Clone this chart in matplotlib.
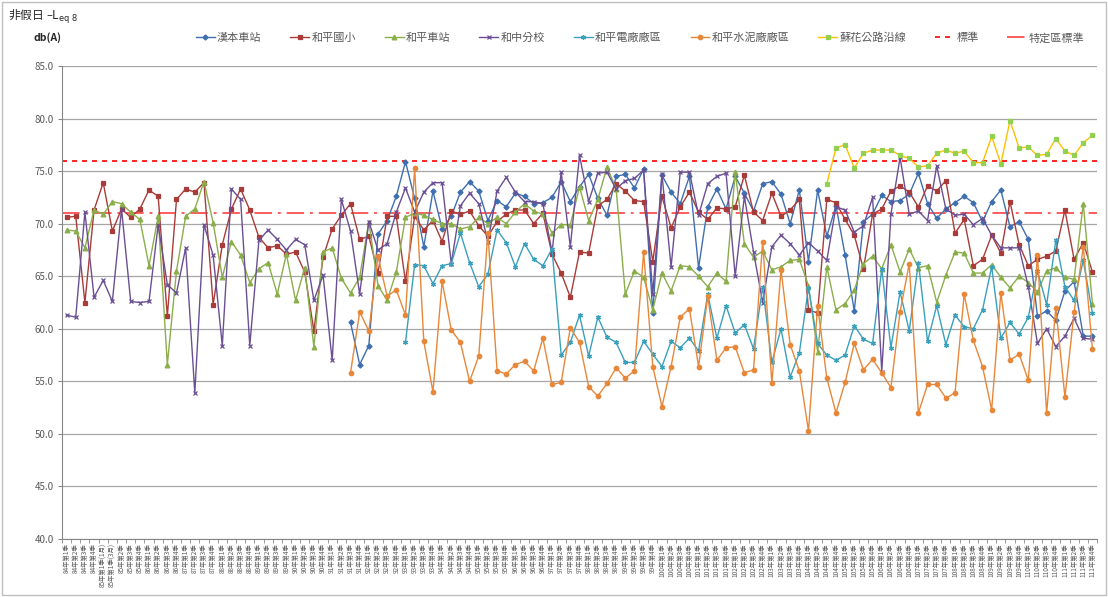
import matplotlib
matplotlib.use("Agg")
import matplotlib.pyplot as plt
from matplotlib.patches import Rectangle
import numpy as np

plt.rcParams["font.family"] = ["Noto Sans CJK TC", "DejaVu Sans"]

# ---------------------------------------------------------------- 類別 (季別)
labels_head = ["84年第1季", "84年第2季", "84年第3季", "84年第4季",
               "85年第1季(1月)", "85年第1季(3月)", "85年第2季", "85年第3季", "85年第4季"]
years = list(range(86, 112))
quarters = [1, 2, 3, 4]
labels = labels_head + [f"{y}年第{q}季" for y in years for q in quarters]

# ---------------------------------------------------------------- 各測站 Leq (dB(A))
hanben = [None] * 31 + [
    60.6, 56.6, 58.4, 69.0, 70.3, 72.6, 75.9, 72.4, 67.8, 73.1,
    69.5, 70.7, 73.0, 74.0, 73.1, 70.3, 72.2, 71.6, 72.9, 72.6,
    71.9, 72.0, 72.5, 74.0, 72.1, 73.5, 74.7, 72.4, 70.8, 74.5,
    74.7, 73.4, 75.2, 61.5, 74.6, 73.0, 71.9, 74.5, 65.8, 71.6,
    73.3, 71.4, 74.5, 72.9, 71.2, 73.8, 74.0, 72.8, 70.0, 73.2,
    66.4, 73.2, 68.8, 71.7, 67.0, 61.7, 70.2, 70.9, 72.7, 72.1,
    72.2, 72.8, 74.8, 71.9, 70.5, 71.4, 72.0, 72.6, 72.0, 70.2,
    72.1, 73.2, 69.7, 70.2, 68.5, 61.2, 61.7, 60.8, 63.6, 64.5,
    59.3, 59.3]

heping_school = [
    70.6, 70.7, 62.5, 71.3, 73.9, 69.3, 71.4, 70.6, 71.4, 73.2,
    72.6, 61.2, 72.3, 73.3, 73.0, 73.9, 62.3, 68.0, 71.4, 73.3,
    71.3, 68.7, 67.7, 67.9, 67.1, 67.3, 65.4, 59.8, 66.8, 69.5,
    70.8, 71.9, 68.5, 68.8, 65.3, 70.7, 70.7, 64.5, 70.7, 69.4,
    70.3, 68.3, 71.2, 70.9, 71.2, 69.8, 68.8, 70.2, 70.9, 71.3,
    71.3, 70.0, 71.0, 67.1, 65.3, 63.0, 67.3, 67.2, 71.7, 72.3,
    73.8, 73.1, 72.2, 72.1, 66.4, 72.6, 69.6, 71.6, 73.0, 71.1,
    70.4, 71.5, 71.4, 71.6, 74.6, 71.1, 70.3, 72.9, 70.7, 71.3,
    72.3, 61.8, 61.5, 72.3, 72.0, 70.4, 68.9, 65.7, 70.9, 71.4,
    73.1, 73.6, 73.0, 71.6, 73.6, 73.1, 74.1, 69.1, 70.4, 66.0,
    66.6, 68.9, 67.2, 72.1, 68.0, 66.0, 66.6, 66.9, 67.4, 71.3,
    66.6, 68.2, 65.4]

heping_station = [
    69.4, 69.3, 67.7, 71.3, 70.9, 72.1, 71.9, 71.1, 70.4, 66.0,
    70.7, 56.6, 65.5, 70.7, 71.4, 74.0, 70.1, 64.9, 68.3, 67.0,
    64.4, 65.7, 66.3, 63.3, 67.1, 62.7, 65.8, 58.3, 67.3, 67.7,
    64.8, 63.4, 64.9, 70.2, 64.1, 62.7, 65.4, 70.6, 71.0, 70.8,
    70.4, 70.0, 70.0, 69.5, 69.7, 70.6, 70.0, 70.6, 70.0, 71.1,
    71.9, 71.2, 70.9, 69.1, 69.9, 69.9, 73.5, 70.3, 72.3, 75.4,
    73.3, 63.3, 65.5, 64.9, 61.8, 65.3, 63.6, 66.0, 65.9, 65.0,
    64.0, 65.3, 64.5, 74.9, 68.1, 66.8, 67.4, 65.6, 65.9, 66.5,
    66.6, 64.1, 57.8, 65.9, 61.8, 62.4, 63.7, 66.2, 66.9, 65.7,
    68.0, 65.4, 67.6, 65.8, 66.0, 62.5, 65.1, 67.3, 67.2, 65.3,
    65.3, 66.1, 64.9, 63.9, 65.0, 64.4, 63.5, 65.5, 65.8, 64.9,
    64.7, 71.9, 62.4]

hezhong = [
    61.3, 61.1, 71.1, 63.0, 64.6, 62.6, 71.4, 62.6, 62.5, 62.6,
    69.9, 64.2, 63.4, 67.7, 53.9, 69.9, 67.0, 58.4, 73.3, 72.3,
    58.4, 68.4, 69.4, 68.5, 67.5, 68.5, 68.0, 62.7, 65.1, 57.0,
    72.3, 69.3, 63.3, 70.2, 67.5, 68.1, 71.1, 73.4, 71.1, 73.0,
    73.9, 73.9, 66.2, 71.7, 72.9, 71.9, 68.3, 73.1, 74.4, 73.0,
    72.1, 72.1, 71.9, 67.3, 74.9, 67.8, 76.5, 72.1, 74.8, 74.9,
    73.3, 74.1, 74.3, 75.1, 63.3, 74.7, 65.9, 74.9, 74.9, 70.8,
    73.8, 74.5, 74.8, 65.0, 72.6, 67.3, 62.5, 67.8, 68.9, 68.1,
    67.0, 68.2, 67.4, 66.5, 71.6, 71.3, 69.2, 69.8, 72.5, 55.9,
    70.9, 76.3, 70.9, 71.2, 70.3, 75.5, 71.4, 70.8, 70.9, 69.9,
    70.5, 68.9, 67.7, 67.7, 67.7, 64.0, 58.6, 60.0, 58.3, 59.3,
    61.0, 59.1, 59.0]

power_plant = [None] * 37 + [
    58.7, 66.1, 66.0, 64.3, 66.0, 66.2, 69.1, 66.3, 64.0, 65.2,
    69.4, 68.2, 65.9, 68.1, 66.6, 66.0, 67.6, 57.5, 58.7, 61.3,
    57.4, 61.1, 59.2, 58.7, 56.8, 56.8, 58.8, 57.6, 56.4, 58.8,
    58.2, 59.1, 57.9, 63.3, 59.1, 62.2, 59.6, 60.4, 58.1, 64.0,
    56.8, 60.0, 55.4, 57.7, 63.9, 58.6, 57.5, 57.0, 57.5, 60.3,
    59.0, 58.6, 65.7, 58.2, 63.5, 59.8, 66.3, 58.8, 62.2, 58.5,
    61.3, 60.2, 60.0, 61.8, 65.9, 59.1, 60.6, 59.5, 61.1, 65.5,
    62.3, 68.4, 64.0, 62.7, 66.5, 61.5]

cement_plant = [None] * 31 + [
    55.8, 61.6, 59.8, 66.9, 63.1, 63.7, 61.3, 75.3, 58.8, 54.0,
    64.5, 59.9, 58.7, 55.0, 57.4, 69.1, 56.0, 55.7, 56.6, 56.9,
    56.0, 59.1, 54.7, 54.9, 60.1, 58.7, 54.5, 53.6, 54.8, 56.3,
    55.3, 56.0, 67.3, 56.4, 52.6, 56.4, 61.1, 61.9, 56.4, 63.1,
    57.0, 58.2, 58.3, 55.8, 56.1, 68.3, 54.8, 65.6, 58.5, 56.0,
    50.3, 62.2, 55.3, 52.0, 54.9, 58.6, 56.1, 57.1, 55.8, 54.4,
    61.6, 66.2, 52.0, 54.7, 54.7, 53.4, 53.9, 63.3, 58.9, 56.4,
    52.3, 63.4, 57.0, 57.6, 55.1, 67.0, 52.0, 62.0, 53.5, 61.6,
    67.8, 58.1]

suhua = [None] * 83 + [
    73.8, 77.2, 77.5, 75.3, 76.7, 77.0, 77.0, 77.0, 76.5, 76.2,
    75.4, 75.5, 76.7, 77.0, 76.7, 76.9, 75.8, 75.8, 78.3, 75.7,
    79.8, 77.2, 77.3, 76.5, 76.6, 78.1, 76.9, 76.5, 77.7, 78.4]

standard = 76
special_standard = 71

series = [
    ("漢本車站", hanben, "#3F6FB0", "D", 2.6, "#3F6FB0"),
    ("和平國小", heping_school, "#A93B38", "s", 3.2, "#A93B38"),
    ("和平車站", heping_station, "#8AAE4A", "^", 3.4, "#8AAE4A"),
    ("和中分校", hezhong, "#6A4F94", "x", 3.2, "#6A4F94"),
    ("和平電廠廠區", power_plant, "#3AA0BC", (6, 2, 0), 3.6, "#3AA0BC"),
    ("和平水泥廠廠區", cement_plant, "#E7873A", "o", 3.2, "#E7873A"),
    ("蘇花公路沿線", suhua, "#FFC000", "s", 3.2, "#92D050"),
]

TXT = "#595959"

fig = plt.figure(figsize=(11.08, 5.97), dpi=100)
fig.patch.set_facecolor("white")
ax = fig.add_axes([62 / 1108, 1 - 539 / 597, 1035 / 1108, 473 / 597])
fig.patches.append(Rectangle((0.002, 0.003), 0.996, 0.994, transform=fig.transFigure,
                             fill=False, edgecolor="#BFBFBF", lw=1))

x = np.arange(len(labels))
handles = []
for name, vals, col, mk, ms, mcol in series:
    y = np.array(vals, dtype=float)
    h, = ax.plot(x, y, color=col, lw=1.0, marker=mk, markersize=ms,
                 markerfacecolor=mcol, markeredgecolor=mcol, markeredgewidth=0.9,
                 label=name, zorder=3)
    handles.append(h)

h1 = ax.axhline(standard, color="#FF0000", lw=1.2, ls=(0, (3, 3)), label="標準", zorder=2)
h2 = ax.axhline(special_standard, color="#FF4040", lw=1.4, alpha=0.85,
                ls=(0, (9, 3, 1.5, 3)), label="特定區標準", zorder=2)
handles += [h1, h2]

ax.set_xlim(-0.5, len(labels) - 0.5)
ax.set_ylim(40, 85)
ax.set_yticks(np.arange(40, 86, 5))
ax.set_yticklabels([f"{v:.1f}" for v in np.arange(40, 86, 5)], fontsize=7, color=TXT)
ax.set_xticks(x)
ax.set_xticklabels(labels, rotation=90, fontsize=4.6, color=TXT)
ax.set_xticks(np.arange(-0.5, len(labels), 1), minor=True)
ax.tick_params(axis="x", which="major", length=0, pad=3)
ax.tick_params(axis="x", which="minor", length=3, color="#868686")
ax.tick_params(axis="y", length=3, color="#868686", pad=3)
ax.grid(axis="y", color="#A6A6A6", lw=0.9, zorder=0)
for s in ["top", "right"]:
    ax.spines[s].set_visible(False)
ax.spines["left"].set_color("#868686")
ax.spines["bottom"].set_color("#868686")

fig.text(8 / 1108, 1 - 17 / 597, "非假日 –L$_{\\mathrm{eq\\ 8}}$", fontsize=8.5,
         color="#262626", va="center", ha="left")
fig.text(33 / 1108, 1 - 38 / 597, "db(A)", fontsize=7.5, color="#262626",
         va="center", ha="left", fontweight="bold")

fig.legend(handles=handles, loc="center", bbox_to_anchor=(640 / 1108, 1 - 38 / 597),
           ncol=9, frameon=False, fontsize=8, handlelength=1.7, handletextpad=0.2,
           columnspacing=2.6, labelcolor=TXT)

fig.savefig("out.png", dpi=100, facecolor="white")
